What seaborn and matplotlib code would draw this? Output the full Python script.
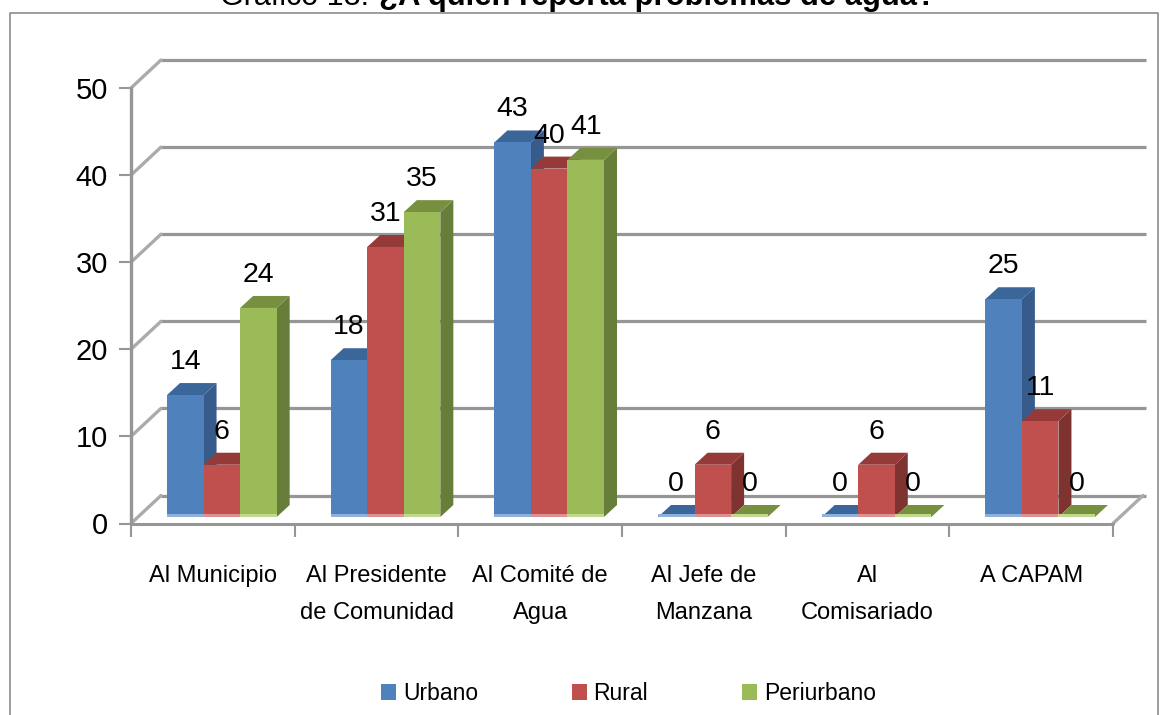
import numpy as np
import pandas as pd
import matplotlib
matplotlib.use('Agg')
import matplotlib.pyplot as plt
from matplotlib.patches import Polygon, Rectangle
import seaborn as sns

categories = ['Al Municipio', 'Al Presidente\nde Comunidad', 'Al Comité de\nAgua',
              'Al Jefe de\nManzana', 'Al\nComisariado', 'A CAPAM']
urbano = [14, 18, 43, 0, 0, 25]
rural = [6, 31, 40, 6, 6, 11]
periurbano = [24, 35, 41, 0, 0, 0]
series = ['Urbano', 'Rural', 'Periurbano']
yticks = [0, 10, 20, 30, 40, 50]

W, H = 1167, 715
front = ['#4F81BD', '#C0504D', '#9BBB59']
side = ['#375C8C', '#7F3331', '#677D3A']
top = ['#3B6699', '#953A38', '#76903F']
band = ['#8FB0DA', '#DE9190', '#C2D88F']

sns.set_theme(style='white')
plt.rcParams['font.family'] = ['Liberation Sans']
plt.rcParams['text.color'] = 'black'
plt.rcParams['xtick.labelcolor'] = 'black'
plt.rcParams['ytick.labelcolor'] = 'black'

df = pd.DataFrame({'cat': categories * 3,
                   'serie': np.repeat(series, 6),
                   'val': urbano + rural + periurbano})

fig = plt.figure(figsize=(W / 100, H / 100), dpi=100)
# axes box = front plane of the 3D chart, in pixels
x0, x1, y0, y50 = 131, 1113, 523.5, 88
ax = fig.add_axes([x0 / W, 1 - y0 / H, (x1 - x0) / W, (y0 - y50) / H])
sns.barplot(data=df, x='cat', y='val', hue='serie', hue_order=series, palette=front,
            saturation=1, width=0.67, gap=0, legend=False, ax=ax, zorder=3)
ax.set_xlim(-0.5, 5.5)
ax.set_ylim(0, 50)
ax.set_xlabel('')
ax.set_ylabel('')
for s in ax.spines.values():
    s.set_visible(False)

ux = (x1 - x0) / 6      # px per category
uy = (y0 - y50) / 50    # px per unit
wall_dx, wall_dy = 30 / ux, 28 / uy
depth_dx, depth_dy = 13 / ux, 12 / uy
lift = 6.5 / uy
shift = 9 / ux
grid_c = '#969696'
diag_c = '#ABABAB'

# back wall lines + left diagonals
for t in yticks:
    ax.plot([-0.5 + wall_dx, 5.5 + wall_dx + 3 / ux], [t + wall_dy] * 2, color=grid_c,
            lw=2.3, clip_on=False, zorder=1, solid_capstyle='butt')
    ax.plot([-0.5, -0.5 + wall_dx], [t, t + wall_dy], color=diag_c, lw=2.4, clip_on=False, zorder=1)
ax.plot([5.5, 5.5 + wall_dx], [0, wall_dy], color=diag_c, lw=2.4, clip_on=False, zorder=1)
ax.plot([-0.5, -0.5], [0, 50], color='#969696', lw=2.4, clip_on=False, zorder=2)
ax.plot([-0.5, 5.5], [0, 0], color='#969696', lw=2.2, clip_on=False, zorder=2)

# bars: move off the front edge and add the depth faces
bars = [p for p in ax.patches]
for i, p in enumerate(bars):
    k = i // 6
    p.set_y(lift)
    p.set_x(p.get_x() + shift)
    bx, bw, bh = p.get_x(), p.get_width(), p.get_height()
    zz = 3 + (bx + 0.5) * 0.01
    p.set_zorder(zz + 0.002)
    p.set_linewidth(0)
    ax.add_patch(Polygon([(bx + bw, lift), (bx + bw + depth_dx, lift + depth_dy),
                          (bx + bw + depth_dx, lift + bh + depth_dy), (bx + bw, lift + bh)],
                         fc=side[k], ec='none', zorder=zz))
    ax.add_patch(Polygon([(bx, lift + bh), (bx + depth_dx, lift + bh + depth_dy),
                          (bx + bw + depth_dx, lift + bh + depth_dy), (bx + bw, lift + bh)],
                         fc=top[k], ec='none', zorder=zz + 0.001))
    ax.add_patch(Rectangle((bx, lift), bw, 3 / uy, fc=band[k], ec='none', zorder=zz + 0.003))
    ax.text(bx + bw / 2, lift + bh + depth_dy + 8 / uy, str(int(bh)), ha='center', va='bottom',
            fontsize=20.5, color='black', zorder=10)

ax.set_yticks(yticks)
ax.tick_params(axis='y', length=9, width=1.5, color='#969696', labelsize=21, pad=7.5, left=True)
ax.set_xticks(np.arange(-0.5, 6, 1), minor=True)
ax.tick_params(axis='x', which='minor', length=9, width=1.5, color='#969696', bottom=True)
ax.set_xticks(np.arange(6))
ax.set_xticklabels(categories, fontsize=17, linespacing=1.85)
ax.tick_params(axis='x', which='major', length=0, pad=30)

# outer chart frame, cut by the image at the bottom
fig.add_artist(plt.Line2D([9.5 / W, 9.5 / W, 1157.5 / W, 1157.5 / W],
                          [0, 1 - 13 / H, 1 - 13 / H, 0], color='#8C8C8C', lw=1.2))

# title is cropped by the top edge of the image
fig.text(220 / W, 1 - 5 / H, 'Gráfico 18:', fontsize=22, va='baseline', ha='left')
fig.text(379 / W, 1 - 5 / H, '¿A quién reporta problemas de agua?', fontsize=22.3, fontweight='bold',
         va='baseline', ha='left')

# legend
for name, c, sq, tx in zip(series, front, [381, 572, 742], [403, 593, 764]):
    fig.add_artist(Rectangle((sq / W, 1 - 700 / H), 14.5 / W, 16 / H, fc=c, ec='none',
                             transform=fig.transFigure))
    fig.text(tx / W, 1 - 694 / H, name, fontsize=16.5, va='center', ha='left')

fig.savefig('out.png', dpi=100)
